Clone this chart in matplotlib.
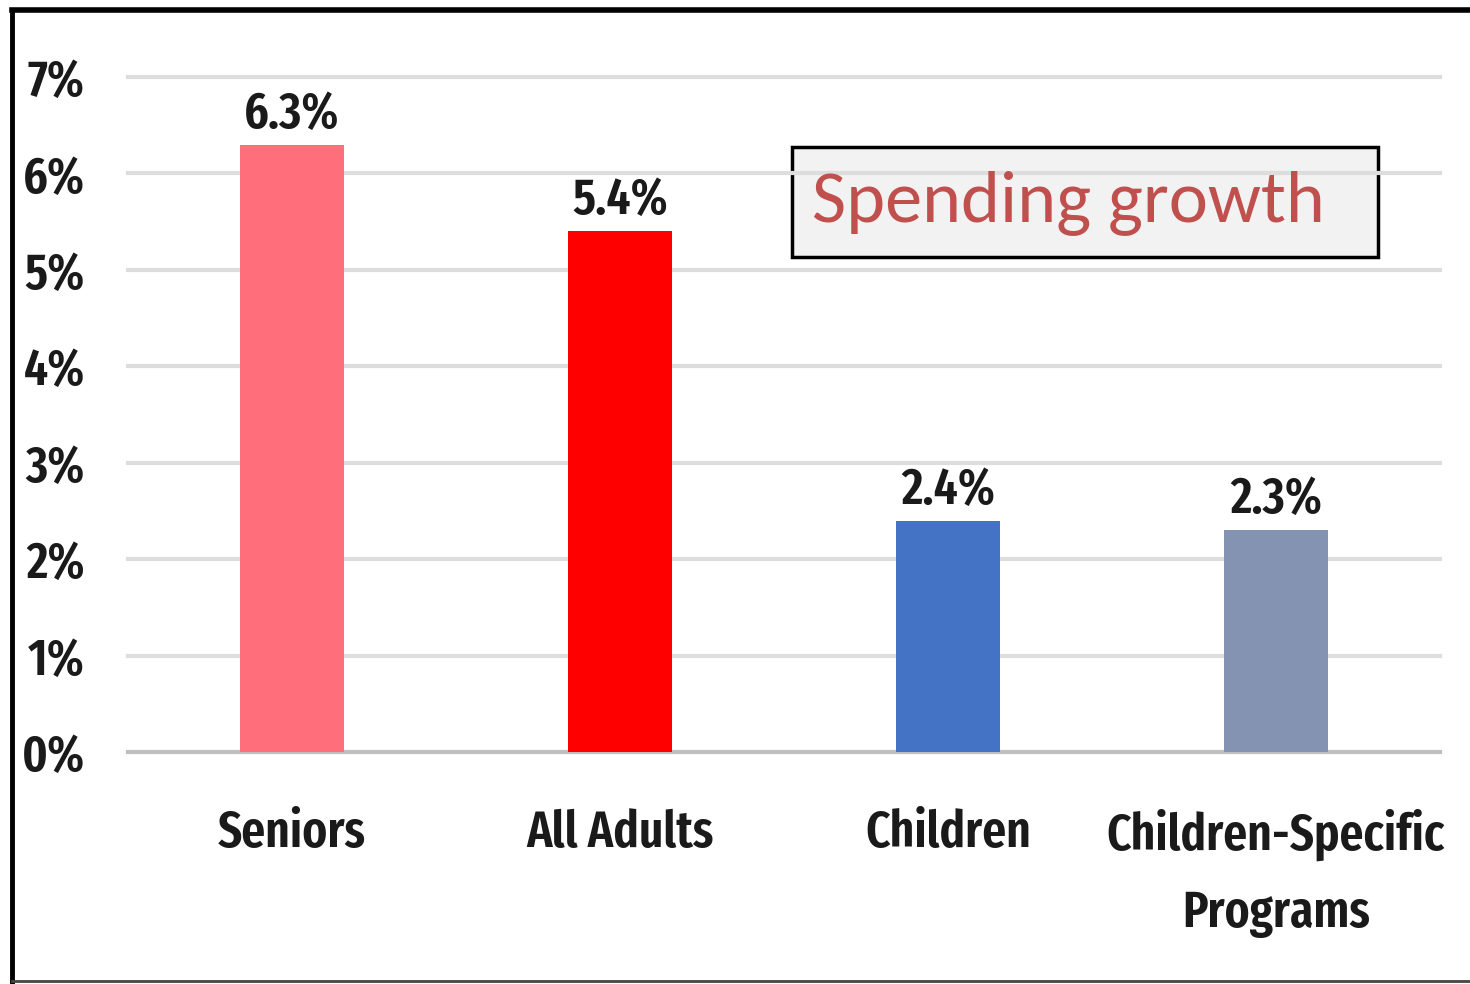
import matplotlib
matplotlib.use("Agg")
import matplotlib.pyplot as plt
from matplotlib.lines import Line2D
from matplotlib import font_manager

categories = ["Seniors", "All Adults", "Children", "Children-Specific\nPrograms"]
growth = [6.3, 5.4, 2.4, 2.3]
bar_colors = ["#FF6F7B", "#FF0000", "#4472C4", "#8593B3"]
y_ticks = [0, 1, 2, 3, 4, 5, 6, 7]
y_tick_labels = [f"{v}%" for v in y_ticks]
box_text = "Spending growth"

installed = {f.name for f in font_manager.fontManager.ttflist}


def pick(*candidates):
    for c in candidates:
        if c in installed:
            return c
    return "DejaVu Sans"


narrow = pick("Fira Sans Extra Condensed", "Barlow Condensed", "Saira Condensed",
              "Roboto Condensed", "PT Sans Narrow", "Lato")
body = pick("Carlito", "Lato", "Open Sans")
plt.rcParams["font.family"] = [narrow, "DejaVu Sans"]

TXT = 37  # shared size for ticks, category and value labels
WEIGHT = "semibold"

fig = plt.figure(figsize=(14.7, 9.84), dpi=100)
fig.patch.set_facecolor("white")
ax = fig.add_axes([128 / 1470, 1 - 752 / 984, (1440 - 128) / 1470, (752 - 77) / 984])

x = list(range(len(categories)))
ax.set_xlim(-0.5, len(categories) - 0.5)
ax.set_ylim(0, 7)

for v in y_ticks:
    ax.axhline(v, color="#BFBFBF" if v == 0 else "#DDDDDD", lw=3, zorder=0, clip_on=False)

ax.bar(x, growth, width=0.315, color=bar_colors, zorder=2)

for xi, v in zip(x, growth):
    ax.annotate(f"{v}%", (xi, v), xytext=(0, 4), textcoords="offset points",
                ha="center", va="bottom", fontsize=TXT, fontweight=WEIGHT, color="#1A1A1A")

ax.set_yticks(y_ticks)
ax.set_yticklabels(y_tick_labels)
ax.set_xticks(x)
ax.set_xticklabels(categories, linespacing=1.72)
ax.tick_params(axis="y", length=0, pad=31, labelsize=TXT, labelcolor="#1A1A1A")
ax.tick_params(axis="x", length=0, pad=41, labelsize=TXT, labelcolor="#1A1A1A")
for lbl in ax.get_yticklabels() + ax.get_xticklabels():
    lbl.set_fontweight(WEIGHT)

for s in ax.spines.values():
    s.set_visible(False)
ax.set_facecolor("none")

fig.text(812 / 1470, 1 - 203 / 984, box_text, fontsize=53.5, color="#C0504D",
         family=[body, "DejaVu Sans"], ha="left", va="center")
fig.patches.append(plt.Rectangle((792 / 1470, 1 - 257 / 984), (1378 - 792) / 1470, (257 - 147) / 984,
                                 transform=fig.transFigure, facecolor="#F2F2F2",
                                 edgecolor="black", lw=2.5, zorder=-1))

# page frame
fig.add_artist(Line2D([12 / 1470, 12 / 1470], [0, 1 - 10 / 984], color="black", lw=3.5,
                      transform=fig.transFigure))
fig.add_artist(Line2D([12 / 1470, 1], [1 - 10 / 984, 1 - 10 / 984], color="black", lw=4,
                      transform=fig.transFigure))
fig.add_artist(Line2D([12 / 1470, 1], [1 - 981 / 984, 1 - 981 / 984], color="#444444", lw=2,
                      transform=fig.transFigure))

fig.savefig("out.png", dpi=100)
